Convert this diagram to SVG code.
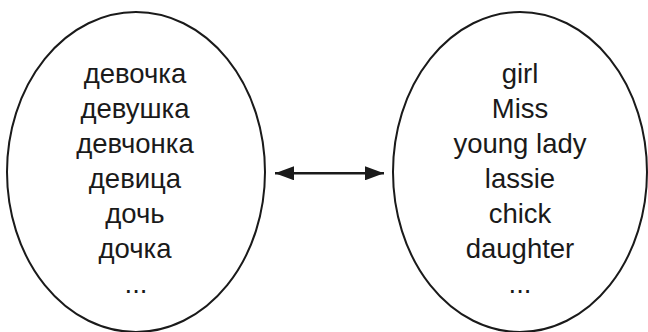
<svg xmlns="http://www.w3.org/2000/svg" width="648" height="332" viewBox="0 0 648 332">
<style>
.ell{fill:none;stroke:#1a1a1a;stroke-width:2}
.t{font-family:"Liberation Sans",Arial,sans-serif;font-size:27.5px;fill:#1a1a1a;text-anchor:middle}
.con{stroke:#1a1a1a;stroke-width:2.4;fill:none}
</style>
<defs>
<marker id="ah" markerWidth="19" markerHeight="14" refX="19" refY="7" orient="auto-start-reverse" markerUnits="userSpaceOnUse">
<path d="M0,0 L19,7 L0,14 Z" fill="#1a1a1a"/>
</marker>
</defs>
<g id="russian">
<ellipse class="ell" cx="136" cy="172" rx="129" ry="160"/>
<text class="t" x="135" y="83">девочка</text>
<text class="t" x="135" y="118">девушка</text>
<text class="t" x="135" y="153">девчонка</text>
<text class="t" x="135" y="188">девица</text>
<text class="t" x="135" y="223">дочь</text>
<text class="t" x="135" y="258">дочка</text>
<text class="t" x="136" y="293">...</text>
</g>
<g id="english">
<ellipse class="ell" cx="520" cy="172" rx="127" ry="160"/>
<text class="t" x="520" y="83">girl</text>
<text class="t" x="520" y="118">Miss</text>
<text class="t" x="520" y="153">young lady</text>
<text class="t" x="520" y="188">lassie</text>
<text class="t" x="520" y="223">chick</text>
<text class="t" x="520" y="258">daughter</text>
<text class="t" x="520" y="293">...</text>
</g>
<g id="connectors">
<line class="con" x1="275" y1="173.3" x2="384" y2="173.3" marker-start="url(#ah)" marker-end="url(#ah)"/>
</g>
</svg>
